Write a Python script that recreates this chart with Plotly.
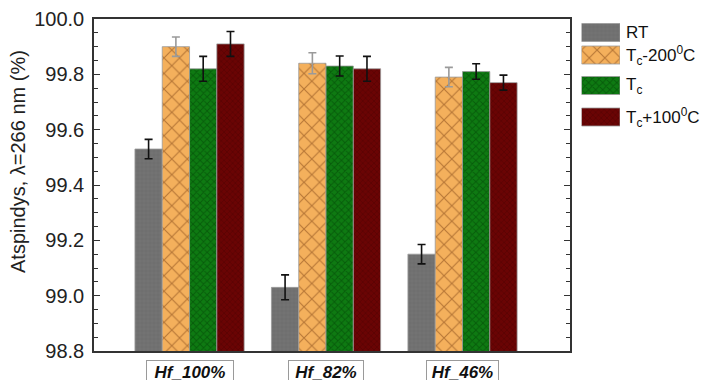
import plotly.graph_objects as go

# Sample groups and measured reflectance at 266 nm
groups = ["Hf_100%", "Hf_82%", "Hf_46%"]
series_names = ["RT", "T<sub>c</sub>-200<sup>0</sup>C", "T<sub>c</sub>", "T<sub>c</sub>+100<sup>0</sup>C"]

rt_vals = [99.53, 99.03, 99.15]
rt_err = [0.035, 0.045, 0.035]
tc200_vals = [99.90, 99.84, 99.79]
tc200_err = [0.035, 0.038, 0.035]
tc_vals = [99.82, 99.83, 99.81]
tc_err = [0.045, 0.036, 0.028]
tc100_vals = [99.91, 99.82, 99.77]
tc100_err = [0.045, 0.045, 0.027]

y_ticks = [98.8, 99.0, 99.2, 99.4, 99.6, 99.8, 100.0]

values = [rt_vals, tc200_vals, tc_vals, tc100_vals]
errors = [rt_err, tc200_err, tc_err, tc100_err]

# fill, pattern, error-bar colour per series
styles = [
    dict(color="#6f6f6f", fg="#8a8a8a", shape="+", size=4, solidity=0.15, ecolor="#111111"),
    dict(color="#f4b05c", fg="#7a3f12", shape="x", size=11, solidity=0.2, ecolor="#9a9a9a"),
    dict(color="#0e7a12", fg="#023f05", shape="x", size=5, solidity=0.35, ecolor="#111111"),
    dict(color="#6a0404", fg="#430000", shape="x", size=4, solidity=0.3, ecolor="#111111"),
]

FONT = "Liberation Sans, Arial, sans-serif"

fig = go.Figure()

for vals, errs, st in zip(values, errors, styles):
    fig.add_trace(go.Bar(
        x=groups, y=vals,
        marker=dict(color=st["color"],
                    line=dict(color="#9a9a9a", width=0.8),
                    pattern=dict(shape=st["shape"], fgcolor=st["fg"], size=st["size"],
                                 solidity=st["solidity"])),
        error_y=dict(type="data", array=errs, visible=True, color=st["ecolor"],
                     thickness=1.6, width=4),
        showlegend=False,
    ))

# Legend swatches drawn on their own small axis pair at the right
swatch_centers = [32.5, 55, 85.5, 117]
for st, yc in zip(styles, swatch_centers):
    fig.add_trace(go.Bar(
        x=[1], y=[yc], base=0, orientation="h", width=18,
        marker=dict(color=st["color"],
                    line=dict(color="#9a9a9a", width=0.8),
                    pattern=dict(shape=st["shape"], fgcolor=st["fg"], size=st["size"],
                                 solidity=st["solidity"])),
        xaxis="x2", yaxis="y2", showlegend=False, hoverinfo="skip",
    ))

W, H = 702, 380
L, R, T, B = 94, 0, 19, 29
pw, ph = W - L - R, H - T - B


def px_x(p):
    return (p - L) / pw


def px_y(p):
    return (H - B - p) / ph


for name, yc in zip(series_names, swatch_centers):
    fig.add_annotation(x=px_x(624), y=px_y(yc), xref="paper", yref="paper",
                       text=name, showarrow=False, xanchor="left", yanchor="middle",
                       font=dict(family=FONT, size=17, color="#111111"))

# Boxed group labels under the axis
box_widths = [88, 76, 73]
for g, bw in zip(groups, box_widths):
    fig.add_annotation(x=g, y=px_y(360), xref="x", yref="paper",
                       text="<b><i>" + g + "</i></b>", showarrow=False,
                       xanchor="center", yanchor="top",
                       width=bw - 6, height=18, borderpad=2, borderwidth=1,
                       bordercolor="#9a9a9a", bgcolor="white",
                       font=dict(family=FONT, size=17, color="#111111"))

# Rotated y-axis title
fig.add_annotation(x=px_x(18), y=px_y(162), xref="paper", yref="paper",
                   text="Atspindys, λ=266 nm (%)", textangle=-90, showarrow=False,
                   xanchor="center", yanchor="middle",
                   font=dict(family=FONT, size=20, color="#222222"))

fig.update_layout(
    width=W, height=H,
    margin=dict(l=L, r=R, t=T, b=B),
    paper_bgcolor="white", plot_bgcolor="white",
    barmode="group", bargap=0.2, bargroupgap=0,
    xaxis=dict(domain=[0, px_x(570)], range=[-0.7, 2.7875],
               showline=True, mirror=True, linecolor="#333333", linewidth=1.5,
               ticks="", showticklabels=False, showgrid=False, zeroline=False),
    yaxis=dict(range=[98.8, 100.0], tickvals=y_ticks, tickformat=".1f",
               showline=True, mirror="ticks", linecolor="#333333", linewidth=1.5,
               ticks="inside", ticklen=6, tickcolor="#333333", tickwidth=1.2,
               minor=dict(dtick=0.05, ticks="inside", ticklen=4, tickcolor="#333333",
                          tickwidth=1.2, showgrid=False),
               tickfont=dict(family=FONT, size=20, color="#222222"),
               ticklabelstandoff=4,
               showgrid=False, zeroline=False),
    xaxis2=dict(domain=[px_x(581.5), px_x(620)], range=[0, 1], anchor="y2",
                visible=False, fixedrange=True),
    yaxis2=dict(domain=[0, 1], range=[H - B, T], anchor="x2",
                visible=False, fixedrange=True),
)

fig.write_html("out.html")
